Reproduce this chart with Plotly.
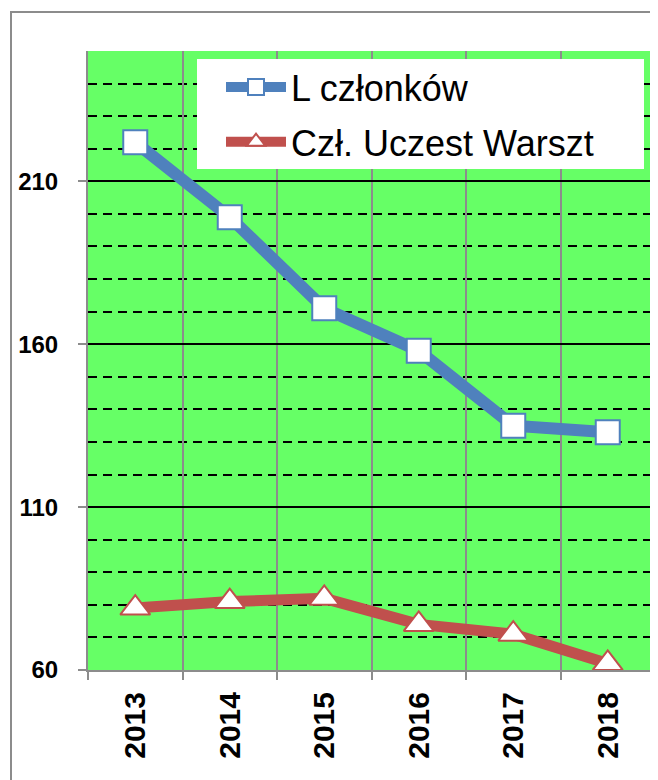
import plotly.graph_objects as go

years = ["2013", "2014", "2015", "2016", "2017", "2018"]
l_czlonkow = [222, 199, 171, 158, 135, 133]
czl_uczest = [79, 81, 82, 74, 71, 62]
series_names = ["L członków", "Czł. Uczest Warszt"]
y_ticks = [60, 110, 160, 210]

BLUE = "#4F81BD"
RED = "#C0504D"

fig = go.Figure()
fig.add_trace(go.Scatter(
    x=years, y=l_czlonkow, name=series_names[0], mode="lines+markers",
    line=dict(color=BLUE, width=12), legendgroup="a",
    marker=dict(symbol="square", size=24, color="white", line=dict(color=BLUE, width=2)),
))
fig.add_trace(go.Scatter(
    x=years, y=czl_uczest, name=series_names[1], mode="lines+markers",
    line=dict(color=RED, width=11), legendgroup="b",
    marker=dict(symbol="triangle-up", size=26, color="white", line=dict(color=RED, width=2)),
))

# page has an 8px body margin; compensate so the plot lands where the reference has it
OFF = 8
L, R, T, B = 88 - OFF, 3, 51 - OFF, 110
W, H = 658 - OFF, 780 - OFF
pw, ph = W - L - R, H - T - B

def px_x(p):  # page pixel -> paper x
    return (p - OFF - L) / pw

def px_y(p):  # page pixel -> paper y
    return (H - B - (p - OFF)) / ph

fig.update_layout(
    width=W, height=H,
    margin=dict(l=L, r=R, t=T, b=B),
    paper_bgcolor="white",
    plot_bgcolor="#66FF66",
    font=dict(family="Liberation Sans, Arial, sans-serif", color="black"),
    showlegend=True,
    legend=dict(
        x=px_x(221), y=px_y(57), xanchor="left", yanchor="top",
        bgcolor="rgba(0,0,0,0)", borderwidth=0,
        font=dict(size=36, color="black"),
        itemsizing="trace", itemwidth=60,
        traceorder="grouped", tracegroupgap=5,
    ),
    shapes=[
        dict(type="rect", xref="paper", yref="paper",
             x0=px_x(11), x1=px_x(657), y0=px_y(800), y1=px_y(12),
             line=dict(color="#8C8C8C", width=2), fillcolor="rgba(0,0,0,0)", layer="below"),
        dict(type="rect", xref="paper", yref="paper",
             x0=px_x(197), x1=px_x(644), y0=px_y(169), y1=px_y(59),
             line=dict(width=0), fillcolor="white", layer="above"),
    ],
)

fig.update_xaxes(
    type="category", tickson="boundaries",
    showgrid=True, gridcolor="#8C8C8C", gridwidth=2,
    showline=True, linecolor="#8C8C8C", linewidth=2,
    ticks="outside", ticklen=8, tickcolor="#8C8C8C", tickwidth=2,
    tickangle=-90, tickfont=dict(size=30, weight="bold", color="black"),
    ticklabelstandoff=8,
    range=[-0.5, 5.5],
)
fig.update_yaxes(
    range=[60, 250], tickmode="array", tickvals=y_ticks,
    showgrid=True, gridcolor="black", gridwidth=2,
    showline=True, linecolor="#8C8C8C", linewidth=2,
    ticks="outside", ticklen=8, tickcolor="#8C8C8C", tickwidth=2,
    tickfont=dict(size=24, weight="bold", color="black"),
    ticklabelstandoff=15,
    zeroline=False,
    minor=dict(dtick=10, tick0=60, showgrid=True, gridcolor="black", gridwidth=1.5,
               griddash="9px,6px", ticks=""),
)

fig.write_html("out.html")
